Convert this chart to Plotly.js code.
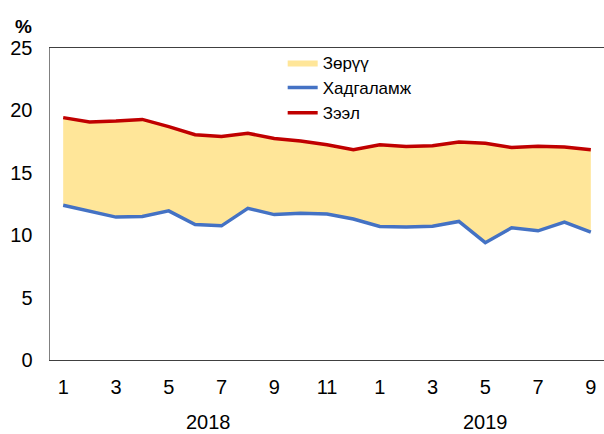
<!DOCTYPE html>
<html>
<head>
<meta charset="utf-8">
<script src="https://cdn.plot.ly/plotly-3.0.1.min.js"></script>
<style>html,body{margin:0;padding:0;background:#fff;}#chart{width:604px;height:434px;}</style>
</head>
<body>
<div id="chart"></div>
<script>
// Month labels (2018: 1-12, 2019: 1-9)
const months = [1,2,3,4,5,6,7,8,9,10,11,12,1,2,3,4,5,6,7,8,9];
const years = ["2018","2019"];
// Deposit rate (Хадгаламж), %
const deposit = [12.4,11.95,11.45,11.5,11.95,10.85,10.75,12.15,11.65,11.75,11.7,11.3,10.7,10.65,10.72,11.1,9.4,10.6,10.35,11.05,10.25];
// Loan rate (Зээл), %
const loan = [19.42,19.08,19.15,19.28,18.7,18.05,17.9,18.17,17.75,17.55,17.25,16.85,17.25,17.1,17.17,17.47,17.37,17.02,17.12,17.06,16.85];
const tickMonths = [1,3,5,7,9,11,1,3,5,7,9];

const xIdx = months.map((m,i)=>i);
const tickIdx = xIdx.filter(i => months[i] % 2 === 1);
const FONT = "Liberation Sans, Arial, sans-serif";

const traces = [
  {x:xIdx, y:deposit, mode:'lines', fill:'tozeroy', fillcolor:'#ffffff',
   line:{width:1, color:'#d8ceb0'}, showlegend:false, hoverinfo:'skip'},
  {x:xIdx, y:loan, mode:'lines', fill:'tonexty', fillcolor:'#FFE699',
   line:{width:0, color:'#FFE699'}, name:'Зөрүү', showlegend:true},
  {x:xIdx, y:deposit, mode:'lines', line:{width:3.5, color:'#4472C4'}, name:'Хадгаламж'},
  {x:xIdx, y:loan, mode:'lines', line:{width:3.5, color:'#C00000'}, name:'Зээл'}
];

const layout = {
  width:604, height:434,
  margin:{l:50, r:0, t:48, b:74},
  paper_bgcolor:'#fff', plot_bgcolor:'#fff',
  font:{family:FONT, size:20, color:'#000'},
  showlegend:true,
  legend:{x:0.42, y:1.01, xanchor:'left', yanchor:'top', bgcolor:'rgba(0,0,0,0)',
          font:{family:FONT, size:17, color:'#000'}, traceorder:'normal', tracegroupgap:0},
  xaxis:{range:[-0.5,20.5], tickvals:tickIdx, ticktext:tickMonths.map(String),
         showgrid:false, zeroline:false, showline:true, linecolor:'#404040', linewidth:1,
         mirror:true, ticks:'', ticklabelstandoff:9, layer:'below traces',
         tickfont:{family:FONT, size:20}},
  yaxis:{range:[0,25], dtick:5, showgrid:false, zeroline:false, showline:true,
         linecolor:'#808080', linewidth:1.5, ticks:'', ticklabelstandoff:12,
         tickfont:{family:FONT, size:20}},
  annotations:[
    {xref:'paper', yref:'paper', x:-0.047, y:1.068, xanchor:'center', yanchor:'middle',
     text:'<b>%</b>', showarrow:false, font:{family:FONT, size:19}},
    {xref:'x', yref:'paper', x:5.5, y:-0.198, yanchor:'middle', text:years[0], showarrow:false,
     font:{family:FONT, size:20}},
    {xref:'x', yref:'paper', x:16, y:-0.198, yanchor:'middle', text:years[1], showarrow:false,
     font:{family:FONT, size:20}}
  ]
};

Plotly.newPlot('chart', traces, layout, {staticPlot:true, displayModeBar:false});
</script>
</body>
</html>
